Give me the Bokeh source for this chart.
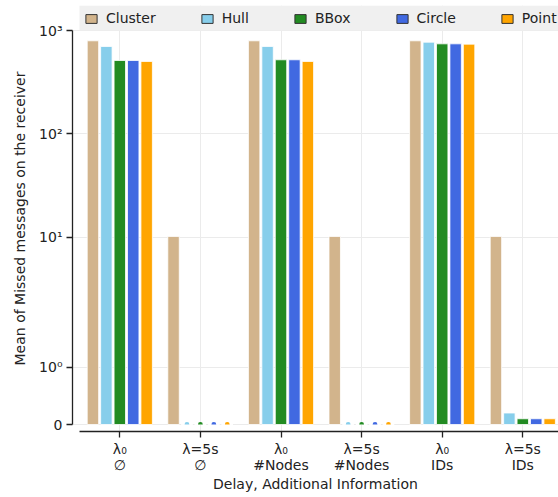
import numpy as np
from bokeh.plotting import figure
from bokeh.models import (ColumnDataSource, Range1d, FixedTicker, Legend, LegendItem,
                          BoxAnnotation)
from bokeh.embed import file_html
from bokeh.resources import INLINE

# ---- data ----
groups = ["λ₀\n∅", "λ=5s\n∅", "λ₀\n#Nodes", "λ=5s\n#Nodes", "λ₀\nIDs", "λ=5s\nIDs"]
methods = ["Cluster", "Hull", "BBox", "Circle", "Point"]
colors = ["#D2B48C", "#87CEEB", "#228B22", "#4169E1", "#FFA500"]
cluster = [795, 10.2, 795, 10.2, 795, 10.2]
hull = [701, 0, 701, 0, 771, 0.2]
bbox = [513, 0, 521, 0, 743, 0.1]
circle = [513, 0, 521, 0, 743, 0.1]
point = [502, 0, 502, 0, 738, 0.1]
series = [cluster, hull, bbox, circle, point]
ytick_vals = [0, 1, 10, 100, 1000]
ytick_labels = ["0", "10⁰", "10¹", "10²", "10³"]

# symlog transform (linthresh=2, linscale=1, base 10)
LT = 2.0
LS = 1.0 / (1.0 - 0.1)
def symlog(v):
    v = np.asarray(v, dtype=float)
    a = np.abs(v)
    out = np.where(a <= LT, v * LS, np.sign(v) * LT * (LS + np.log10(np.maximum(a, 1e-12) / LT)))
    return out

FONT = "DejaVu Sans"
TXT = "#222222"

W, H = 558, 497
frame_left, frame_top, frame_bottom = 72, 5, 431
zero_px, top_px = 424, 30
ymax_t = float(symlog(1000))
ppu = (zero_px - top_px) / ymax_t
y_start = -(frame_bottom - zero_px) / ppu
y_end = ymax_t + (top_px - frame_top) / ppu

gpx = 80.6
c0 = 119.3
x_start = -(c0 - frame_left) / gpx
x_end = (W - c0) / gpx

p = figure(width=W, height=H, output_backend="svg", toolbar_location=None,
           x_range=Range1d(x_start, x_end), y_range=Range1d(y_start, y_end),
           min_border_left=frame_left, min_border_top=frame_top,
           min_border_bottom=H - frame_bottom, min_border_right=0)
p.outline_line_color = None
p.background_fill_color = "white"

pitch = 1.0 / 6.0
bw = 0.142
items = []
gi = np.arange(len(groups))
for k, (name, col, vals) in enumerate(zip(methods, colors, series)):
    off = (k - 2) * pitch
    src = ColumnDataSource(dict(x=gi + off, top=symlog(vals)))
    p.vbar(x="x", top="top", bottom=0, width=bw, source=src,
           fill_color=col, line_color="white", line_width=0.8)
    z = [i for i, v in enumerate(vals) if v == 0]
    if z:
        zsrc = ColumnDataSource(dict(x=gi[z] + off, y=np.zeros(len(z))))
        p.wedge(x="x", y="y", radius=2.4, radius_units="screen", start_angle=0,
                end_angle=np.pi, source=zsrc, fill_color=col, line_color=None)
    # legend proxy: zero-size bars (only the legend swatch is visible)
    leg = p.vbar(x="x", top=0, bottom=0, width=0, source=src,
                 fill_color=col, line_color="#333333", line_width=1)
    items.append(LegendItem(label=name, renderers=[leg]))

# legend band (background strip above the axes)
band = BoxAnnotation(left=-0.5, right=x_end, bottom=ymax_t, top=y_end,
                     fill_color="#f0f0f0", fill_alpha=1, line_color=None)
p.add_layout(band)

legend = Legend(items=items, orientation="horizontal",
                location=(12, (frame_bottom - frame_top) - 21))
legend.margin = 0
legend.padding = 8
legend.spacing = 44
legend.glyph_width = 14
legend.glyph_height = 11
legend.label_height = 16
legend.label_standoff = 8
legend.label_text_font = FONT
legend.label_text_font_size = "14px"
legend.label_text_color = TXT
legend.background_fill_alpha = 0
legend.border_line_color = None
p.add_layout(legend)

# axes
yt = [float(v) for v in symlog(ytick_vals)]
p.yaxis.ticker = FixedTicker(ticks=yt)
p.yaxis.major_label_overrides = {t: l for t, l in zip(yt, ytick_labels)}
p.yaxis.bounds = (0, ymax_t)
p.yaxis.axis_label = "Mean of Missed messages on the receiver"
p.xaxis.ticker = FixedTicker(ticks=list(range(len(groups))))
p.xaxis.major_label_overrides = {i: g for i, g in enumerate(groups)}
p.xaxis.bounds = (-0.5, x_end)
p.xaxis.axis_label = "Delay, Additional Information"
for ax in (p.xaxis[0], p.yaxis[0]):
    ax.axis_line_color = TXT
    ax.axis_line_width = 1.3
    ax.major_tick_line_color = TXT
    ax.major_tick_line_width = 1.3
    ax.major_tick_out = 6
    ax.major_tick_in = 0
    ax.minor_tick_line_color = None
    ax.major_label_text_font = FONT
    ax.major_label_text_font_size = "14px"
    ax.major_label_text_color = TXT
    ax.axis_label_text_font = FONT
    ax.axis_label_text_font_size = "14px"
    ax.axis_label_text_font_style = "normal"
    ax.axis_label_text_color = TXT
p.yaxis.major_label_standoff = 4
p.yaxis.axis_label_standoff = 8
p.xaxis.major_label_standoff = 3
p.xaxis.major_label_text_line_height = 1.0
p.xaxis.axis_label_standoff = 0

p.xgrid.ticker = FixedTicker(ticks=list(range(len(groups))))
p.ygrid.ticker = FixedTicker(ticks=yt)
for g in (p.xgrid[0], p.ygrid[0]):
    g.grid_line_color = "#ebebeb"
    g.grid_line_width = 1

open("out.html", "w").write(file_html(p, INLINE))
